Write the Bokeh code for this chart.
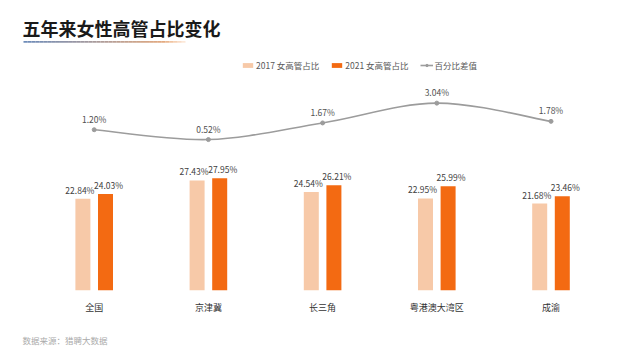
import numpy as np
from bokeh.plotting import figure
from bokeh.models import (Range1d, FixedTicker, Legend, LegendItem, Title,
                          ColumnDataSource)
from bokeh.core.properties import value
from bokeh.embed import file_html
from bokeh.resources import INLINE

FONT = "Noto Sans CJK SC"

# ---- data ----
categories = ["全国", "京津冀", "长三角", "粤港澳大湾区", "成渝"]
share_2017 = [22.84, 27.43, 24.54, 22.95, 21.68]
share_2021 = [24.03, 27.95, 26.21, 25.99, 23.46]
diff_pct = [1.20, 0.52, 1.67, 3.04, 1.78]
legend_labels = ["2017 女高管占比", "2021 女高管占比", "百分比差值"]
title_text = "五年来女性高管占比变化"
source_text = "数据来源：猎聘大数据"

# ---- layout constants (pixels) ----
W, H = 632, 360
FRAME_H = 292
CAT_PX = 114.2          # pixels per category
X0_PX = 93.7            # pixel position of first category
BAR_PX = 4.04           # pixels per percent (bars)
LINE_PX = 14.56         # pixels per percent (line)
LINE_ZERO_FROM_TOP = 147.6

C17 = "#F7C9A8"
C21 = "#F36A12"
CLINE = "#9C9C9C"

p = figure(width=W, height=H, output_backend="svg", toolbar_location=None,
           x_range=Range1d(-X0_PX / CAT_PX, (W - X0_PX) / CAT_PX),
           y_range=Range1d(0, FRAME_H / BAR_PX),
           y_axis_location=None,
           min_border_left=0, min_border_right=0, min_border_top=0,
           min_border_bottom=H - FRAME_H)
p.extra_y_ranges = {"diff": Range1d(-(FRAME_H - LINE_ZERO_FROM_TOP) / LINE_PX,
                                    LINE_ZERO_FROM_TOP / LINE_PX)}
p.outline_line_color = None
p.xgrid.grid_line_color = None
p.ygrid.grid_line_color = None
p.background_fill_color = "white"
p.border_fill_color = "white"

x = np.arange(len(categories), dtype=float)
dx = 11.3 / CAT_PX
bw = 15.0 / CAT_PX

src = ColumnDataSource(dict(
    x=x, x17=x - dx, x21=x + dx,
    v17=share_2017, v21=share_2021, d=diff_pct,
    l17=[f"{v:.2f}%" for v in share_2017],
    l21=[f"{v:.2f}%" for v in share_2021],
    ld=[f"{v:.2f}%" for v in diff_pct],
))

r17 = p.vbar(x="x17", top="v17", width=bw, source=src, fill_color=C17, line_color=None)
r21 = p.vbar(x="x21", top="v21", width=bw, source=src, fill_color=C21, line_color=None)

for col_x, col_y, col_l, xo in (("x17", "v17", "l17", -3), ("x21", "v21", "l21", 3)):
    p.text(x=col_x, y=col_y, text=col_l, source=src, text_align="center",
           text_baseline="middle", x_offset=xo, y_offset=-9, text_font=value(FONT),
           text_font_size="8.5px", text_color="#404040")

# smooth line through the difference points (Catmull-Rom -> Bezier)
n = len(diff_pct)
x0s, y0s, x1s, y1s, cx0, cy0, cx1, cy1 = ([] for _ in range(8))
for i in range(n - 1):
    a = max(i - 1, 0); b = i; c = i + 1; d = min(i + 2, n - 1)
    x0s.append(x[b]); y0s.append(diff_pct[b])
    x1s.append(x[c]); y1s.append(diff_pct[c])
    cx0.append(x[b] + (x[c] - x[a]) / 6); cy0.append(diff_pct[b] + (diff_pct[c] - diff_pct[a]) / 6)
    cx1.append(x[c] - (x[d] - x[b]) / 6); cy1.append(diff_pct[c] - (diff_pct[d] - diff_pct[b]) / 6)
rline = p.bezier(x0=x0s, y0=y0s, x1=x1s, y1=y1s, cx0=cx0, cy0=cy0, cx1=cx1, cy1=cy1,
                 line_color=CLINE, line_width=1.6, y_range_name="diff")
rdots = p.scatter(x="x", y="d", source=src, size=4, fill_color=CLINE, line_color=CLINE,
                  y_range_name="diff")
p.text(x="x", y="d", text="ld", source=src, y_range_name="diff", text_align="center",
       text_baseline="middle", y_offset=-11, text_font=value(FONT),
       text_font_size="8.5px", text_color="#505050")

# title + gradient underline
p.text(x=[(22 - X0_PX) / CAT_PX], y=[(FRAME_H - 27.5) / BAR_PX], text=[title_text],
       text_align="left", text_baseline="middle", text_font=value(FONT),
       text_font_size="18px", text_font_style="bold", text_color="#1a1a1a")
nseg = 40
ux0 = (23 - X0_PX) / CAT_PX
ux1 = (185 - X0_PX) / CAT_PX
uy = (FRAME_H - 41.7) / BAR_PX
xs = np.linspace(ux0, ux1, nseg + 1)
c_a = np.array([110, 140, 185]); c_b = np.array([245, 175, 120])
cols = []
for k in range(nseg):
    t = k / (nseg - 1)
    c = (c_a * (1 - t) + c_b * t).astype(int)
    cols.append("#%02x%02x%02x" % tuple(c))
alphas = [1.0 if k < nseg - 6 else 1.0 - (k - (nseg - 6)) / 7 for k in range(nseg)]
p.segment(x0=xs[:-1], y0=[uy] * nseg, x1=xs[1:], y1=[uy] * nseg,
          line_color=cols, line_alpha=alphas, line_width=1.6)

# x axis
ax = p.xaxis[0]
ax.ticker = FixedTicker(ticks=list(range(len(categories))))
ax.major_label_overrides = {i: c for i, c in enumerate(categories)}
ax.axis_line_color = None
ax.major_tick_line_color = None
ax.minor_tick_line_color = None
ax.major_label_standoff = 4
ax.major_label_text_font = FONT
ax.major_label_text_font_size = "9px"
ax.major_label_text_color = "#333333"

# legend
legend = Legend(items=[LegendItem(label=legend_labels[0], renderers=[r17]),
                       LegendItem(label=legend_labels[1], renderers=[r21]),
                       LegendItem(label=legend_labels[2], renderers=[rline, rdots])],
                orientation="horizontal", location=(241, 219),
                glyph_width=13, glyph_height=6, label_standoff=2, spacing=11,
                padding=0, margin=0, border_line_alpha=0, background_fill_alpha=0,
                label_text_font=FONT, label_text_font_size="8.5px",
                label_text_color="#595959", label_height=12)
p.add_layout(legend)

# footer
p.add_layout(Title(text=source_text, align="left", offset=22, standoff=30,
                   text_font=FONT, text_font_size="8.5px", text_font_style="normal",
                   text_color="#aaaaaa"), "below")

open("out.html", "w").write(file_html(p, INLINE))
